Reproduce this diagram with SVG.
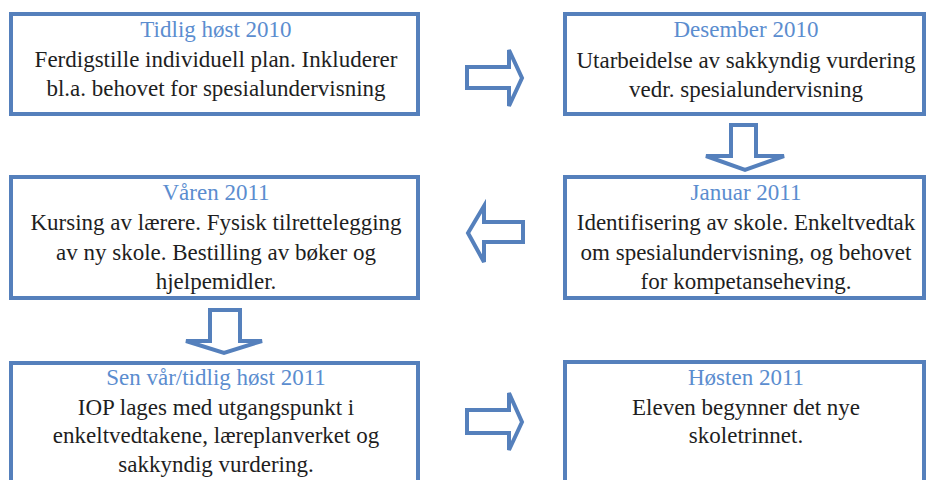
<svg xmlns="http://www.w3.org/2000/svg" width="928" height="480" viewBox="0 0 928 480">
<style>
.box{fill:#fff;stroke:#5580BC;stroke-width:4}
.arr{fill:#fff;stroke:#5580BC;stroke-width:4;stroke-linejoin:miter}
text{font-family:"Liberation Serif","Times New Roman",serif;font-size:23px;text-anchor:middle}
.t{fill:#5B8DCF}
.b{fill:#1E1E1E}
</style>
<rect width="928" height="480" fill="#fff"/>
<g id="connectors">
<polygon class="arr" points="467,67 509,67 509,50 522,78 509,106 509,88 467,88"/>
<polygon class="arr" points="731,125 756,125 756,156 784,156 745,170 706,156 731,156"/>
<polygon class="arr" points="523,222 484,222 484,206 468,233 484,262 484,242 523,242"/>
<polygon class="arr" points="210,310 240,310 240,341 262,341 224,353 186,341 210,341"/>
<polygon class="arr" points="467,410 509,410 509,393 522,422 509,450 509,433 467,433"/>
</g>
<g id="n1">
<rect class="box" x="11" y="14" width="407" height="100"/>
<text class="t" x="216" y="37">Tidlig høst 2010</text>
<text class="b" x="216" y="67">Ferdigstille individuell plan. Inkluderer</text>
<text class="b" x="216" y="96">bl.a. behovet for spesialundervisning</text>
</g>
<g id="n2">
<rect class="box" x="565" y="14" width="359" height="100"/>
<text class="t" x="746" y="37">Desember 2010</text>
<text class="b" x="746" y="68">Utarbeidelse av sakkyndig vurdering</text>
<text class="b" x="746" y="97">vedr. spesialundervisning</text>
</g>
<g id="n3">
<rect class="box" x="565" y="177" width="359" height="121"/>
<text class="t" x="746" y="200">Januar 2011</text>
<text class="b" x="746" y="230">Identifisering av skole. Enkeltvedtak</text>
<text class="b" x="746" y="260">om spesialundervisning, og behovet</text>
<text class="b" x="746" y="289">for kompetanseheving.</text>
</g>
<g id="n4">
<rect class="box" x="11" y="177" width="407" height="121"/>
<text class="t" x="216" y="200">Våren 2011</text>
<text class="b" x="216" y="230">Kursing av lærere. Fysisk tilrettelegging</text>
<text class="b" x="216" y="260">av ny skole. Bestilling av bøker og</text>
<text class="b" x="216" y="289">hjelpemidler.</text>
</g>
<g id="n5">
<rect class="box" x="11" y="363" width="407" height="130"/>
<text class="t" x="216" y="385">Sen vår/tidlig høst 2011</text>
<text class="b" x="216" y="415">IOP lages med utgangspunkt i</text>
<text class="b" x="216" y="443">enkeltvedtakene, læreplanverket og</text>
<text class="b" x="216" y="472">sakkyndig vurdering.</text>
</g>
<g id="n6">
<rect class="box" x="565" y="362" width="359" height="130"/>
<text class="t" x="746" y="385">Høsten 2011</text>
<text class="b" x="746" y="415">Eleven begynner det nye</text>
<text class="b" x="746" y="443">skoletrinnet.</text>
</g>
</svg>
